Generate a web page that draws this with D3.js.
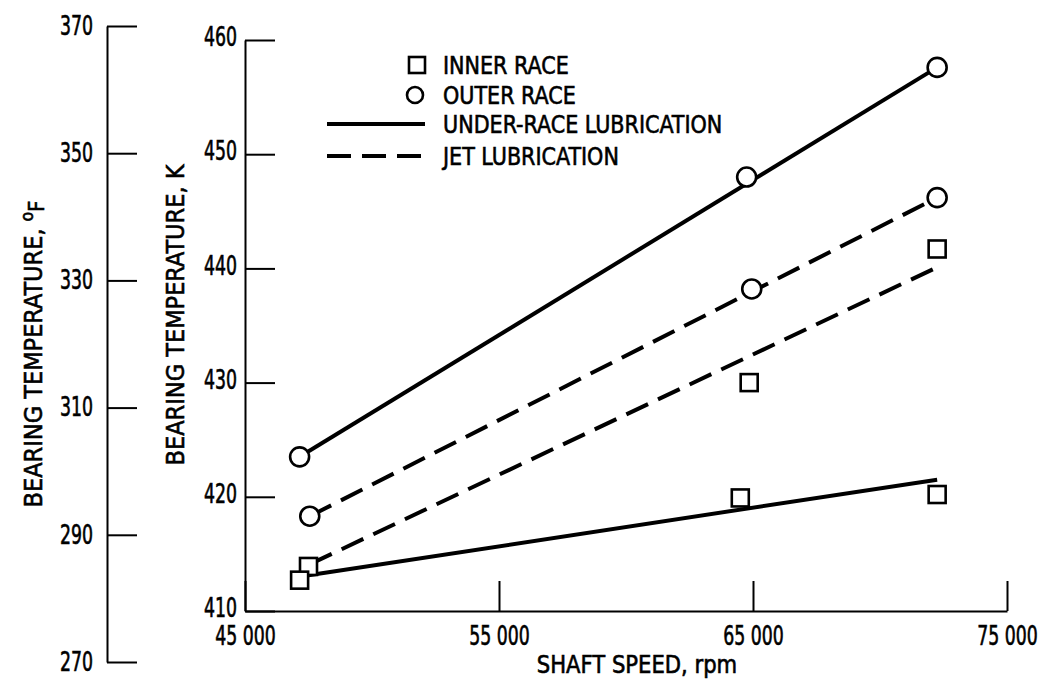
<!DOCTYPE html>
<html>
<head>
<meta charset="utf-8">
<script src="https://cdn.jsdelivr.net/npm/d3@7"></script>
<style>
  body { margin: 0; background: #fff; }
  svg text { font-family: "DejaVu Sans Condensed", "DejaVu Sans", sans-serif; fill: #000; stroke: #000; stroke-width: 0.6px; }
</style>
</head>
<body>
<div id="grafico"></div>
<script>
// Tamaño de la ventana
const w = 1040;
const h = 680;

// Ticks de los ejes
const xTicks = [45000, 55000, 65000, 75000];
const kTicks = [410, 420, 430, 440, 450, 460];
const fTicks = [270, 290, 310, 330, 350, 370];

// Puntos medidos (rpm, K)
const outerUnderRpm = [47150, 64750, 72250];
const outerUnderK = [423.5, 448.0, 457.6];
const outerJetRpm = [47550, 64950, 72250];
const outerJetK = [418.3, 438.2, 446.2];
const innerJetRpm = [47500, 64850, 72250];
const innerJetK = [413.9, 430.0, 441.7];
const innerUnderRpm = [47150, 64500, 72250];
const innerUnderK = [412.7, 419.9, 420.2];

// Rectas ajustadas (inicio, fin)
const fitOuterUnderRpm = [47150, 72250];
const fitOuterUnderK = [423.5, 457.6];
const fitOuterJetRpm = [47550, 72250];
const fitOuterJetK = [418.3, 446.2];
const fitInnerJetRpm = [47560, 72250];
const fitInnerJetK = [414.1, 440.1];
const fitInnerUnderRpm = [47440, 72250];
const fitInnerUnderK = [413.1, 421.5];

// Leyenda
const legendLabels = ['INNER RACE', 'OUTER RACE', 'UNDER-RACE LUBRICATION', 'JET LUBRICATION'];

const zip = (a, b) => a.map((v, i) => [v, b[i]]);

// Comprimir el texto a lo ancho (fuente estrecha)
function squash(sel, f) {
  sel.each(function () {
    const len = this.getComputedTextLength();
    d3.select(this)
      .attr('textLength', len * f)
      .attr('lengthAdjust', 'spacingAndGlyphs');
  });
}

// Escalas
const xScale = d3.scaleLinear().domain([45000, 75000]).range([245, 1007]);
const yK = d3.scaleLinear().domain([410, 460]).range([611, 40]);
const yF = d3.scaleLinear().domain([270, 370]).range([662, 26]);

const svg = d3.select('#grafico')
  .append('svg')
  .attr('width', w)
  .attr('height', h);

const dash = '24,11';

// Lineas ajustadas
const lineGen = d3.line()
  .x((d) => xScale(d[0]))
  .y((d) => yK(d[1]));

const fits = [
  { d: zip(fitOuterUnderRpm, fitOuterUnderK), dash: null },
  { d: zip(fitOuterJetRpm, fitOuterJetK), dash: dash },
  { d: zip(fitInnerJetRpm, fitInnerJetK), dash: dash },
  { d: zip(fitInnerUnderRpm, fitInnerUnderK), dash: null }
];

svg.selectAll('path.fit')
  .data(fits)
  .enter()
  .append('path')
  .attr('class', 'fit')
  .attr('d', (f) => lineGen(f.d))
  .attr('fill', 'none')
  .attr('stroke', '#000')
  .attr('stroke-width', 4)
  .attr('stroke-dasharray', (f) => f.dash);

// Marcadores
const circles = zip(outerUnderRpm, outerUnderK).concat(zip(outerJetRpm, outerJetK));
const squares = zip(innerJetRpm, innerJetK).concat(zip(innerUnderRpm, innerUnderK));

svg.selectAll('circle.pt')
  .data(circles)
  .enter()
  .append('circle')
  .attr('class', 'pt')
  .attr('cx', (d) => xScale(d[0]))
  .attr('cy', (d) => yK(d[1]))
  .attr('r', 9.5)
  .attr('fill', '#fff')
  .attr('stroke', '#000')
  .attr('stroke-width', 2.6);

const sq = 17;
svg.selectAll('rect.pt')
  .data(squares)
  .enter()
  .append('rect')
  .attr('class', 'pt')
  .attr('x', (d) => xScale(d[0]) - sq / 2)
  .attr('y', (d) => yK(d[1]) - sq / 2)
  .attr('width', sq)
  .attr('height', sq)
  .attr('fill', '#fff')
  .attr('stroke', '#000')
  .attr('stroke-width', 2.6);

// Eje X
const xAxis = svg.append('g')
  .attr('transform', 'translate(0,611)')
  .style('font-size', '26px')
  .call(d3.axisBottom(xScale)
    .tickValues(xTicks)
    .tickSize(-30)
    .tickSizeOuter(0)
    .tickPadding(16)
    .tickFormat((d) => d3.format(',')(d).replace(',', ' ')));

// Eje K
const kAxis = svg.append('g')
  .attr('transform', 'translate(245,0)')
  .style('font-size', '26px')
  .call(d3.axisLeft(yK)
    .tickValues(kTicks)
    .tickSize(-30)
    .tickSizeOuter(0)
    .tickPadding(8));
kAxis.selectAll('text').attr('dy', '0.22em');

// Eje F
const fAxis = svg.append('g')
  .attr('transform', 'translate(107,0)')
  .style('font-size', '26px')
  .call(d3.axisLeft(yF)
    .tickValues(fTicks)
    .tickSize(-30)
    .tickSizeOuter(0)
    .tickPadding(14));

[xAxis, kAxis, fAxis].forEach((g) => {
  g.attr('font-family', null);
  g.selectAll('path, line').attr('stroke', '#000').attr('stroke-width', 2);
  g.selectAll('text').attr('fill', '#000');
  squash(g.selectAll('text'), 0.74);
});

// Titulos
const xTitle = svg.append('text')
  .attr('x', 637)
  .attr('y', 673)
  .attr('text-anchor', 'middle')
  .style('font-size', '25px')
  .text('SHAFT SPEED, rpm');
squash(xTitle, 0.94);

svg.append('text')
  .attr('text-anchor', 'middle')
  .attr('transform', 'translate(184,315)rotate(-90)')
  .style('font-size', '25px')
  .text('BEARING TEMPERATURE, K');

const fTitle = svg.append('text')
  .attr('text-anchor', 'middle')
  .attr('transform', 'translate(42,354)rotate(-90)')
  .style('font-size', '25px');
fTitle.append('tspan').text('BEARING TEMPERATURE, ');
fTitle.append('tspan').attr('dy', -9).style('font-size', '17px').text('o');
fTitle.append('tspan').attr('dy', 11).style('font-size', '22px').text('F');

// Leyenda
const legY = [65, 95, 124, 156];
svg.append('rect')
  .attr('x', 417 - 8).attr('y', legY[0] - 8)
  .attr('width', 16).attr('height', 16)
  .attr('fill', '#fff').attr('stroke', '#000').attr('stroke-width', 2.6);
svg.append('circle')
  .attr('cx', 415).attr('cy', legY[1]).attr('r', 8)
  .attr('fill', '#fff').attr('stroke', '#000').attr('stroke-width', 2.6);
svg.append('line')
  .attr('x1', 327).attr('x2', 425).attr('y1', legY[2]).attr('y2', legY[2])
  .attr('stroke', '#000').attr('stroke-width', 4);
svg.append('line')
  .attr('x1', 327).attr('x2', 425).attr('y1', legY[3]).attr('y2', legY[3])
  .attr('stroke', '#000').attr('stroke-width', 4).attr('stroke-dasharray', dash);

const legText = svg.selectAll('text.leg')
  .data(legendLabels)
  .enter()
  .append('text')
  .attr('class', 'leg')
  .attr('x', 443)
  .attr('y', (d, i) => legY[i])
  .attr('dy', '0.36em')
  .style('font-size', '25px')
  .text((d) => d);
squash(legText, 0.92);
</script>
</body>
</html>
